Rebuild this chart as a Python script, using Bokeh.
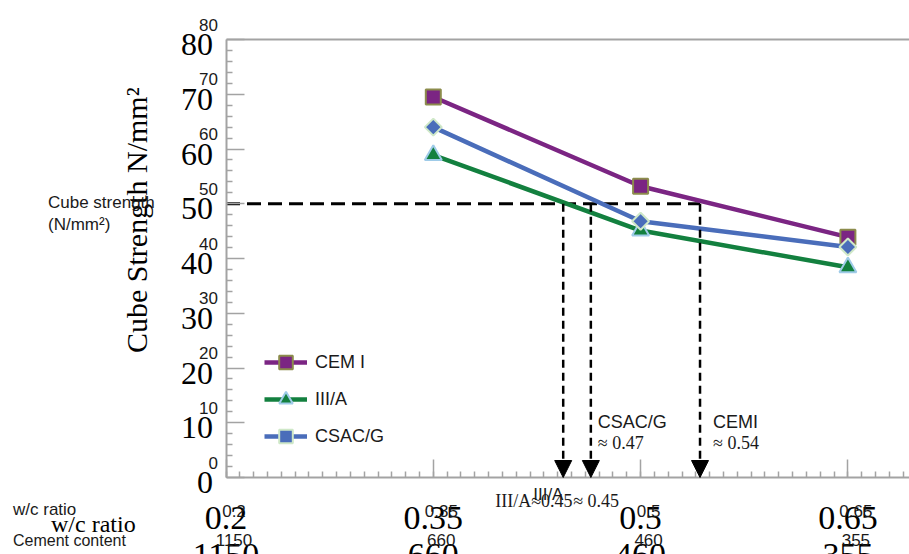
import math
from bokeh.plotting import figure
from bokeh.models import (Range1d, LinearAxis, FixedTicker, CustomJSTickFormatter, Label, LabelSet,
                          ColumnDataSource, Arrow, NormalHead, Legend, LegendItem)
from bokeh.core.properties import value
from bokeh.embed import file_html
from bokeh.resources import INLINE

# ---- data ----
wc_ratio = [0.35, 0.5, 0.65]
cem1 = [69.5, 53.2, 43.9]
iii_a = [58.9, 45.1, 38.4]
csac_g = [64.0, 46.8, 42.1]

tick_wc = [0.2, 0.35, 0.5, 0.65]
tick_wc_labels = ["0.2", "0.35", "0.5", "0.65"]
cement_content = ["1150", "660", "460", "355"]
y_ticks = [0, 10, 20, 30, 40, 50, 60, 70, 80]

target_strength = 50
cross_wc = [0.444, 0.464, 0.543]   # III/A, CSAC/G, CEMI

SERIF = "Liberation Serif"
SANS = "Liberation Sans"
GRAY = "#a3a3a3"
TXT = "#1a1a1a"

W, H = 909, 554
XPX, YPX = 1382.0, 5.475       # pixels per data unit
X0_PX, Y0_PX = 225.5, 477.0    # canvas position of (0.2, 0)
x_lo, x_hi = 0.2 - X0_PX / XPX, 0.2 + (W - X0_PX) / XPX
y_lo, y_hi = -(H - Y0_PX) / YPX, Y0_PX / YPX
label_shift = 5 / YPX          # big y labels sit ~5px below their ticks

p = figure(width=W, height=H, output_backend="svg", toolbar_location=None,
           x_range=Range1d(x_lo, x_hi), y_range=Range1d(y_lo, y_hi),
           x_axis_location=None, y_axis_location=None, min_border=0)
p.extra_y_ranges = {"lab": Range1d(y_lo + label_shift, y_hi + label_shift)}
p.outline_line_color = None
p.xgrid.visible = False
p.ygrid.visible = False
p.background_fill_color = "white"
p.border_fill_color = "white"

fmt_js = "const i = tvals.findIndex(t => Math.abs(t - tick) < 1e-6); return i >= 0 ? String(lbls[i]) : '';"

def style_axis(ax):
    ax.axis_line_color = GRAY
    ax.axis_line_width = 2
    ax.major_tick_line_color = GRAY
    ax.minor_tick_line_color = GRAY
    ax.major_tick_line_width = 1.5
    ax.minor_tick_line_width = 1.5
    ax.major_tick_in = 18
    ax.major_tick_out = 0
    ax.minor_tick_in = 6
    ax.minor_tick_out = 0
    ax.major_label_text_font = SERIF
    ax.major_label_text_color = "black"

# y axis: line + short (minor) ticks
yax = LinearAxis(ticker=FixedTicker(ticks=[], minor_ticks=[v for v in range(0, 81, 2) if v % 10]),
                 fixed_location=tick_wc[0], bounds=(0, 80))
style_axis(yax)
p.add_layout(yax, "left")

# y axis: long ticks at every 10
ymaj = LinearAxis(ticker=FixedTicker(ticks=[], minor_ticks=y_ticks),
                  fixed_location=tick_wc[0], bounds=(0, 80))
style_axis(ymaj)
ymaj.axis_line_color = None
ymaj.minor_tick_in = 18
p.add_layout(ymaj, "left")

# y axis: big serif labels (slightly lower than ticks)
ylab = LinearAxis(ticker=FixedTicker(ticks=y_ticks, minor_ticks=[]), y_range_name="lab",
                  fixed_location=tick_wc[0], bounds=(0, 80))
style_axis(ylab)
ylab.axis_line_color = None
ylab.major_tick_line_color = None
ylab.minor_tick_line_color = None
ylab.major_label_standoff = 13
ylab.major_label_text_font_size = "32px"
p.add_layout(ylab, "left")

# x axis (big serif w/c labels)
xax = LinearAxis(ticker=FixedTicker(ticks=tick_wc, minor_ticks=[round(0.2 + 0.01 * i, 2) for i in range(50)]),
                 formatter=CustomJSTickFormatter(args=dict(tvals=tick_wc, lbls=tick_wc_labels), code=fmt_js),
                 fixed_location=0, bounds=(0.2, x_hi))
style_axis(xax)
xax.major_label_standoff = 29
xax.major_label_text_font_size = "34px"
p.add_layout(xax, "below")

# second x axis: cement content (big serif, cut off at the bottom)
cax = LinearAxis(ticker=FixedTicker(ticks=tick_wc, minor_ticks=[]),
                 formatter=CustomJSTickFormatter(args=dict(tvals=tick_wc, lbls=cement_content), code=fmt_js),
                 fixed_location=0, bounds=(0.2, x_hi))
style_axis(cax)
cax.axis_line_color = None
cax.major_tick_line_color = None
cax.minor_tick_line_color = None
cax.major_label_standoff = 66
cax.major_label_text_font_size = "34px"
p.add_layout(cax, "below")

# top border
tax = LinearAxis(ticker=FixedTicker(ticks=[], minor_ticks=[]), fixed_location=80, bounds=(0.2, x_hi))
style_axis(tax)
p.add_layout(tax, "above")

# small sans duplicates of tick labels
ysrc = ColumnDataSource(dict(x=[0.2] * len(y_ticks), y=y_ticks, t=[str(v) for v in y_ticks]))
p.add_layout(LabelSet(x="x", y="y", text="t", source=ysrc, x_offset=-8, y_offset=15,
                      text_align="right", text_baseline="middle", text_font=value(SANS),
                      text_font_size="17px", text_color=TXT))
xsrc = ColumnDataSource(dict(x=tick_wc, y=[0] * 4, t=tick_wc_labels, c=cement_content))
p.add_layout(LabelSet(x="x", y="y", text="t", source=xsrc, x_offset=8, y_offset=-33,
                      text_align="center", text_baseline="middle", text_font=value(SANS),
                      text_font_size="17px", text_color=TXT))
p.add_layout(LabelSet(x="x", y="y", text="c", source=xsrc, x_offset=8, y_offset=-62,
                      text_align="center", text_baseline="middle", text_font=value(SANS),
                      text_font_size="17px", text_color=TXT))

# row titles
p.add_layout(Label(x=0.2, y=0, x_offset=-213, y_offset=-32, text="w/c ratio", text_align="left",
                   text_baseline="middle", text_font=SANS, text_font_size="17px", text_color=TXT))
p.add_layout(Label(x=0.2, y=0, x_offset=-175, y_offset=-46, text="w/c ratio", text_align="left",
                   text_baseline="middle", text_font=SERIF, text_font_size="24px", text_color="black"))
p.add_layout(Label(x=0.2, y=0, x_offset=-213, y_offset=-63, text="Cement content", text_align="left",
                   text_baseline="middle", text_font=SANS, text_font_size="16px", text_color=TXT))

# axis titles
p.add_layout(Label(x=0.2, y=47, x_offset=-90, text="Cube Strength N/mm²", angle=math.pi / 2,
                   text_align="center", text_baseline="middle", text_font=SERIF,
                   text_font_size="30px", text_color="black"))
p.add_layout(Label(x=0.2, y=target_strength, x_offset=-178, y_offset=1, text="Cube strength", text_align="left",
                   text_baseline="middle", text_font=SANS, text_font_size="17px", text_color=TXT))
p.add_layout(Label(x=0.2, y=target_strength, x_offset=-178, y_offset=-21, text="(N/mm²)", text_align="left",
                   text_baseline="middle", text_font=SANS, text_font_size="17px", text_color=TXT))

# dashed guide lines
p.line([0.2, cross_wc[2]], [target_strength, target_strength], line_color="black", line_width=3,
       line_dash="14 7")
for xv in cross_wc:
    p.add_layout(Arrow(x_start=xv, y_start=target_strength, x_end=xv, y_end=0,
                       line_color="black", line_width=2.5, line_dash="8 5",
                       end=NormalHead(size=17, fill_color="black", line_color="black")))

# annotations for crossings
p.add_layout(Label(x=cross_wc[1], y=0, x_offset=7, y_offset=56, text="CSAC/G", text_align="left",
                   text_baseline="middle", text_font=SANS, text_font_size="18px", text_color=TXT))
p.add_layout(Label(x=cross_wc[1], y=0, x_offset=7, y_offset=35, text="≈ 0.47", text_align="left",
                   text_baseline="middle", text_font=SERIF, text_font_size="18px", text_color=TXT))
p.add_layout(Label(x=cross_wc[2], y=0, x_offset=13, y_offset=56, text="CEMI", text_align="left",
                   text_baseline="middle", text_font=SANS, text_font_size="18px", text_color=TXT))
p.add_layout(Label(x=cross_wc[2], y=0, x_offset=13, y_offset=35, text="≈ 0.54", text_align="left",
                   text_baseline="middle", text_font=SERIF, text_font_size="18px", text_color=TXT))
p.add_layout(Label(x=cross_wc[0], y=0, x_offset=-68, y_offset=-23, text="III/A≈0.45", text_align="left",
                   text_baseline="middle", text_font=SERIF, text_font_size="18px", text_color=TXT))
p.add_layout(Label(x=cross_wc[0], y=0, x_offset=-30, y_offset=-17, text="III/A", text_align="left",
                   text_baseline="middle", text_font=SANS, text_font_size="17px", text_color=TXT))
p.add_layout(Label(x=cross_wc[0], y=0, x_offset=10, y_offset=-23, text="≈ 0.45", text_align="left",
                   text_baseline="middle", text_font=SERIF, text_font_size="18px", text_color=TXT))

# series
PURPLE, GREEN, BLUE = "#7b2583", "#13803f", "#4a6dba"
l1 = p.line(wc_ratio, cem1, line_color=PURPLE, line_width=4.5)
m1 = p.scatter(wc_ratio, cem1, marker="square", size=15, fill_color=PURPLE, line_color="#8c8c4c", line_width=2)
l2 = p.line(wc_ratio, iii_a, line_color=GREEN, line_width=4.5)
m2 = p.scatter(wc_ratio, iii_a, marker="triangle", size=17, fill_color=GREEN, line_color="#9fcbe8", line_width=2)
l3 = p.line(wc_ratio, csac_g, line_color=BLUE, line_width=4.5)
m3 = p.scatter(wc_ratio, csac_g, marker="square", angle=math.pi / 4, size=12, fill_color=BLUE,
               line_color="#cfe8c8", line_width=2)

legend = Legend(items=[LegendItem(label="CEM I", renderers=[l1, m1]),
                       LegendItem(label="III/A", renderers=[l2, m2]),
                       LegendItem(label="CSAC/G", renderers=[l3, m3])],
                location=(264, 24 + (H - Y0_PX)), glyph_width=43, glyph_height=34, spacing=3, padding=0, margin=0,
                label_standoff=8, label_text_font=SANS, label_text_font_size="18px",
                label_text_color=TXT, border_line_color=None, background_fill_alpha=0)
p.add_layout(legend)

open("out.html", "w").write(file_html(p, INLINE))
